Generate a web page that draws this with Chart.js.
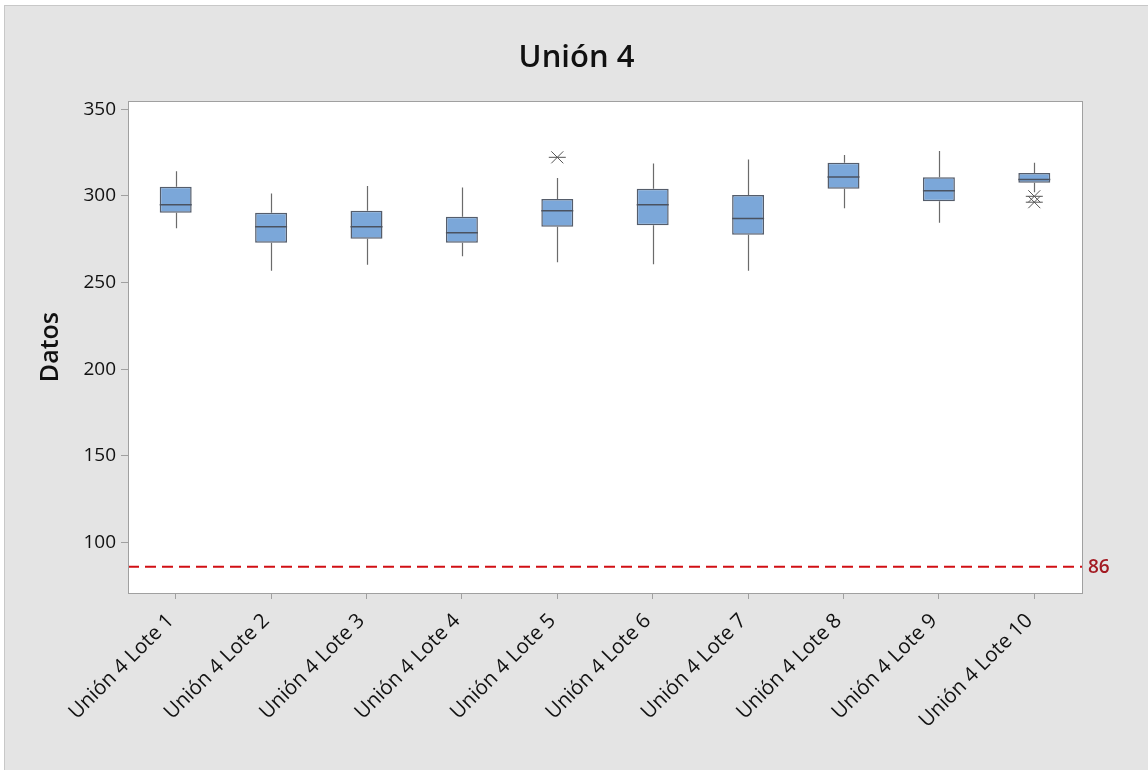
<!DOCTYPE html>
<html>
<head>
<meta charset="utf-8">
<script src="https://cdn.jsdelivr.net/npm/chart.js@4.4.1/dist/chart.umd.min.js"></script>
<style>
  html, body { margin: 0; padding: 0; background: #ffffff; }
  #wrap { position: absolute; left: 4px; top: 5px; width: 1143px; height: 764px;
          border-left: 1px solid #c8c8c8; border-top: 1px solid #c8c8c8; background: #e4e4e4; }
  canvas { display: block; }
</style>
</head>
<body>
<div id="wrap"><canvas id="chart-union" width="1143" height="764"></canvas></div>
<script>
var categories = ['Unión 4 Lote 1', 'Unión 4 Lote 2', 'Unión 4 Lote 3', 'Unión 4 Lote 4', 'Unión 4 Lote 5',
                  'Unión 4 Lote 6', 'Unión 4 Lote 7', 'Unión 4 Lote 8', 'Unión 4 Lote 9', 'Unión 4 Lote 10'];
var whiskerLow  = [281.4, 256.8, 260.3, 265.2, 261.8, 260.6, 256.8, 292.9, 284.5, 302.1];
var q1          = [290.3, 273.0, 275.3, 273.0, 282.2, 283.1, 277.6, 304.1, 297.0, 307.6];
var medians     = [294.9, 282.2, 282.2, 278.7, 291.4, 294.9, 287.0, 311.0, 303.0, 309.5];
var q3          = [305.3, 290.3, 291.4, 288.0, 298.3, 304.1, 300.6, 319.1, 310.8, 313.3];
var whiskerHigh = [314.3, 301.4, 305.8, 304.9, 310.4, 318.7, 321.0, 323.7, 326.0, 319.1];
var outlierCat  = ['Unión 4 Lote 5', 'Unión 4 Lote 10', 'Unión 4 Lote 10'];
var outlierVal  = [322.3, 299.8, 296.4];
var yTicks = [100, 150, 200, 250, 300, 350];
var refValue = 86;

var font = '"Open Sans", "Noto Sans", sans-serif';

var boxes = q1.map(function (v, i) { return [v, q3[i]]; });
var outliers = outlierCat.map(function (c, i) { return { x: c, y: outlierVal[i] }; });

// white plot area + frame, whiskers, medians, reference line
var boxplotPlugin = {
    id: 'boxplotExtras',
    beforeDraw: function (chart) {
        var a = chart.chartArea, ctx = chart.ctx;
        ctx.save();
        ctx.fillStyle = '#ffffff';
        ctx.fillRect(a.left, a.top, a.right - a.left, a.bottom - a.top);
        ctx.restore();
    },
    beforeDatasetsDraw: function (chart) {
        var x = chart.scales.x, y = chart.scales.y, ctx = chart.ctx;
        ctx.save();
        ctx.strokeStyle = '#6b6b6b';
        ctx.lineWidth = 1.2;
        for (var i = 0; i < categories.length; i++) {
            var px = Math.round(x.getPixelForValue(i)) + 0.5;
            ctx.beginPath();
            ctx.moveTo(px, y.getPixelForValue(whiskerLow[i]));
            ctx.lineTo(px, y.getPixelForValue(q1[i]));
            ctx.moveTo(px, y.getPixelForValue(q3[i]));
            ctx.lineTo(px, y.getPixelForValue(whiskerHigh[i]));
            ctx.stroke();
        }
        ctx.restore();
    },
    afterDatasetsDraw: function (chart) {
        var y = chart.scales.y, ctx = chart.ctx, a = chart.chartArea;
        var meta = chart.getDatasetMeta(0);
        ctx.save();
        ctx.strokeStyle = '#4a5260';
        ctx.lineWidth = 1.5;
        meta.data.forEach(function (bar, i) {
            var half = bar.width / 2;
            var py = y.getPixelForValue(medians[i]);
            ctx.beginPath();
            ctx.moveTo(bar.x - half, py);
            ctx.lineTo(bar.x + half, py);
            ctx.stroke();
        });
        // reference line
        var ry = y.getPixelForValue(refValue);
        ctx.strokeStyle = '#d10f14';
        ctx.lineWidth = 2;
        ctx.setLineDash([11, 6]);
        ctx.beginPath();
        ctx.moveTo(a.left, ry);
        ctx.lineTo(a.right, ry);
        ctx.stroke();
        ctx.setLineDash([]);
        ctx.fillStyle = '#a31a22';
        ctx.font = '600 19px ' + font;
        ctx.textAlign = 'left';
        ctx.textBaseline = 'middle';
        ctx.fillText(String(refValue), a.right + 6, ry + 1);
        // frame
        ctx.strokeStyle = '#a0a0a0';
        ctx.lineWidth = 1;
        ctx.strokeRect(Math.round(a.left) + 0.5, Math.round(a.top) + 0.5,
                       Math.round(a.right - a.left), Math.round(a.bottom - a.top));
        ctx.restore();
    }
};

var config = {
    type: 'bar',
    data: {
        labels: categories,
        datasets: [{
            label: 'Caja',
            data: boxes,
            backgroundColor: '#7ba7d9',
            borderColor: '#555d6b',
            borderWidth: 1.5,
            borderSkipped: false,
            barPercentage: 0.335,
            categoryPercentage: 1,
            order: 1
        }, {
            type: 'line',
            label: 'Atípicos',
            data: outliers,
            showLine: false,
            pointStyle: 'crossRot',
            pointRadius: 8.5,
            pointBorderColor: '#555555',
            pointBorderWidth: 1,
            order: 0
        }, {
            type: 'line',
            label: 'Atípicos h',
            data: outliers,
            showLine: false,
            pointStyle: 'line',
            pointRadius: 8.5,
            pointBorderColor: '#555555',
            pointBorderWidth: 1,
            order: 0
        }]
    },
    options: {
        responsive: false,
        animation: false,
        layout: { padding: 0 },
        plugins: {
            legend: { display: false },
            tooltip: { enabled: false },
            title: {
                display: true,
                text: 'Unión 4',
                color: '#111111',
                font: { family: font, size: 31, weight: '600' },
                padding: { top: 34, bottom: 24 }
            }
        },
        scales: {
            x: {
                type: 'category',
                offset: true,
                grid: { display: true, drawOnChartArea: false, drawTicks: true, tickLength: 6, color: '#a0a0a0', offset: false },
                border: { display: false },
                ticks: {
                    color: '#111111',
                    font: { family: font, size: 20.5 },
                    maxRotation: 45, minRotation: 45,
                    autoSkip: false,
                    labelOffset: -5,
                    padding: 10
                },
                afterFit: function (scale) { scale.height = 177; }
            },
            y: {
                type: 'linear',
                min: 70.8,
                max: 354.7,
                grid: { display: true, drawOnChartArea: false, drawTicks: true, tickLength: 7, color: '#a0a0a0' },
                border: { display: false },
                ticks: {
                    color: '#111111',
                    font: { family: font, size: 19 },
                    padding: 5
                },
                afterBuildTicks: function (scale) {
                    scale.ticks = yTicks.map(function (v) { return { value: v }; });
                },
                title: {
                    display: true,
                    text: 'Datos',
                    color: '#111111',
                    font: { family: font, size: 25, weight: '600' },
                    padding: { top: 31, bottom: 0 }
                },
                afterFit: function (scale) { scale.width = 123; }
            },
            yRight: {
                type: 'linear',
                position: 'right',
                display: true,
                grid: { display: false },
                border: { display: false },
                ticks: { display: false },
                afterFit: function (scale) { scale.width = 66; }
            }
        }
    },
    plugins: [boxplotPlugin]
};

window.onload = function () {
    var ctx = document.getElementById('chart-union').getContext('2d');
    window.unionChart = new Chart(ctx, config);
};
</script>
</body>
</html>
